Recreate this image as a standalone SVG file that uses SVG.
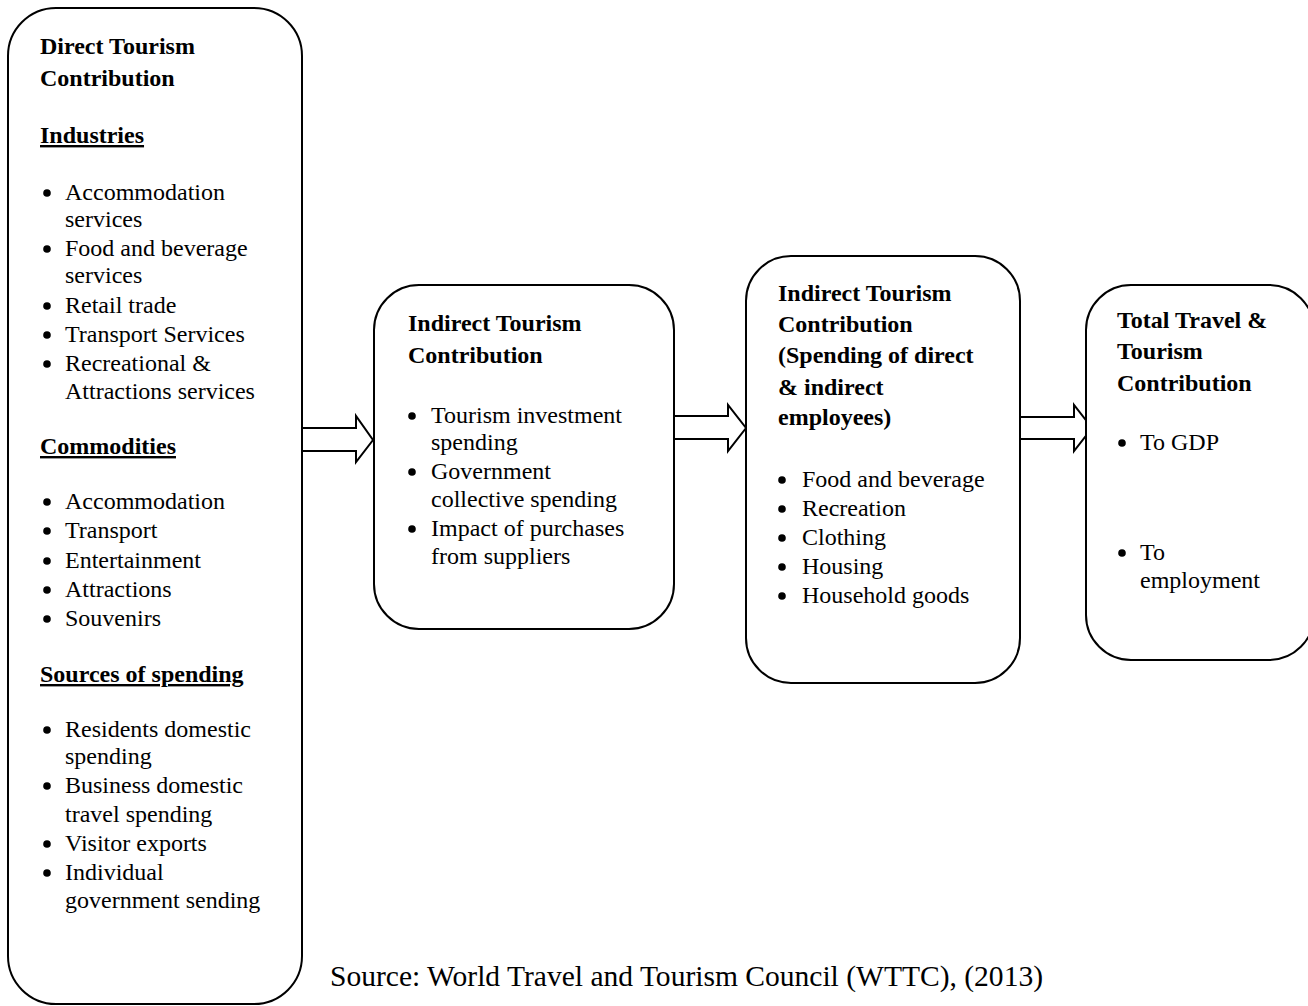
<svg xmlns="http://www.w3.org/2000/svg" width="1308" height="1006" viewBox="0 0 1308 1006">
<style>
.box{fill:#fff;stroke:#000;stroke-width:2}
.arr{fill:#fff;stroke:#000;stroke-width:2;stroke-linejoin:miter}
.b{fill:#000}
text{font-family:"Liberation Serif","Times New Roman",serif;font-size:24px;fill:#000}
.h{font-weight:bold}
.u{font-weight:bold;text-decoration:underline}
</style>
<defs>
<circle id="dot" r="3.8" cx="0" cy="0"/>
</defs>
<rect width="1308" height="1006" fill="#fff"/>
<g id="connectors">
<polyline class="arr" points="302,428 356,428 356,416 373,440 356,462 356,451 302,451"/>
<polyline class="arr" points="674,416 728,416 728,405 746,428 728,451 728,439 674,439"/>
<polyline class="arr" points="1020,417 1074,417 1074,405 1092,428 1074,451 1074,439 1020,439"/>
</g>
<g id="direct">
<rect class="box" x="8" y="8" width="294" height="996" rx="48" ry="48"/>
<text class="h" x="40" y="54">Direct Tourism</text>
<text class="h" x="40" y="86">Contribution</text>
<text class="u" x="40" y="143">Industries</text>
<g class="b">
<use href="#dot" x="47" y="193"/>
<use href="#dot" x="47" y="249"/>
<use href="#dot" x="47" y="306"/>
<use href="#dot" x="47" y="335"/>
<use href="#dot" x="47" y="364"/>
<use href="#dot" x="47" y="502"/>
<use href="#dot" x="47" y="531"/>
<use href="#dot" x="47" y="561"/>
<use href="#dot" x="47" y="590"/>
<use href="#dot" x="47" y="619"/>
<use href="#dot" x="47" y="730"/>
<use href="#dot" x="47" y="786"/>
<use href="#dot" x="47" y="844"/>
<use href="#dot" x="47" y="873"/>
</g>
<text x="65" y="200">Accommodation</text>
<text x="65" y="227">services</text>
<text x="65" y="256">Food and beverage</text>
<text x="65" y="283">services</text>
<text x="65" y="313">Retail trade</text>
<text x="65" y="342">Transport Services</text>
<text x="65" y="371">Recreational &amp;</text>
<text x="65" y="399">Attractions services</text>
<text class="u" x="40" y="454">Commodities</text>
<text x="65" y="509">Accommodation</text>
<text x="65" y="538">Transport</text>
<text x="65" y="568">Entertainment</text>
<text x="65" y="597">Attractions</text>
<text x="65" y="626">Souvenirs</text>
<text class="u" x="40" y="682">Sources of spending</text>
<text x="65" y="737">Residents domestic</text>
<text x="65" y="764">spending</text>
<text x="65" y="793">Business domestic</text>
<text x="65" y="822">travel spending</text>
<text x="65" y="851">Visitor exports</text>
<text x="65" y="880">Individual</text>
<text x="65" y="908">government sending</text>
</g>
<g id="indirect">
<rect class="box" x="374" y="285" width="300" height="344" rx="45" ry="45"/>
<text class="h" x="408" y="331">Indirect Tourism</text>
<text class="h" x="408" y="363">Contribution</text>
<g class="b">
<use href="#dot" x="412" y="416"/>
<use href="#dot" x="412" y="472"/>
<use href="#dot" x="412" y="529"/>
</g>
<text x="431" y="423">Tourism investment</text>
<text x="431" y="450">spending</text>
<text x="431" y="479">Government</text>
<text x="431" y="507">collective spending</text>
<text x="431" y="536">Impact of purchases</text>
<text x="431" y="564">from suppliers</text>
</g>
<g id="induced">
<rect class="box" x="746" y="256" width="274" height="427" rx="45" ry="45"/>
<text class="h" x="778" y="301">Indirect Tourism</text>
<text class="h" x="778" y="332">Contribution</text>
<text class="h" x="778" y="363">(Spending of direct</text>
<text class="h" x="778" y="395">&amp; indirect</text>
<text class="h" x="778" y="425">employees)</text>
<g class="b">
<use href="#dot" x="782" y="480"/>
<use href="#dot" x="782" y="509"/>
<use href="#dot" x="782" y="538"/>
<use href="#dot" x="782" y="567"/>
<use href="#dot" x="782" y="596"/>
</g>
<text x="802" y="487">Food and beverage</text>
<text x="802" y="516">Recreation</text>
<text x="802" y="545">Clothing</text>
<text x="802" y="574">Housing</text>
<text x="802" y="603">Household goods</text>
</g>
<g id="total">
<rect class="box" x="1086" y="285" width="228" height="375" rx="45" ry="45"/>
<text class="h" x="1117" y="328">Total Travel &amp;</text>
<text class="h" x="1117" y="359">Tourism</text>
<text class="h" x="1117" y="391">Contribution</text>
<g class="b">
<use href="#dot" x="1122" y="443"/>
<use href="#dot" x="1122" y="553"/>
</g>
<text x="1140" y="450">To GDP</text>
<text x="1140" y="560">To</text>
<text x="1140" y="588">employment</text>
</g>
<g id="source">
<text x="330" y="986" style="font-size:29px" textLength="713" lengthAdjust="spacingAndGlyphs">Source: World Travel and Tourism Council (WTTC), (2013)</text>
</g>
</svg>
